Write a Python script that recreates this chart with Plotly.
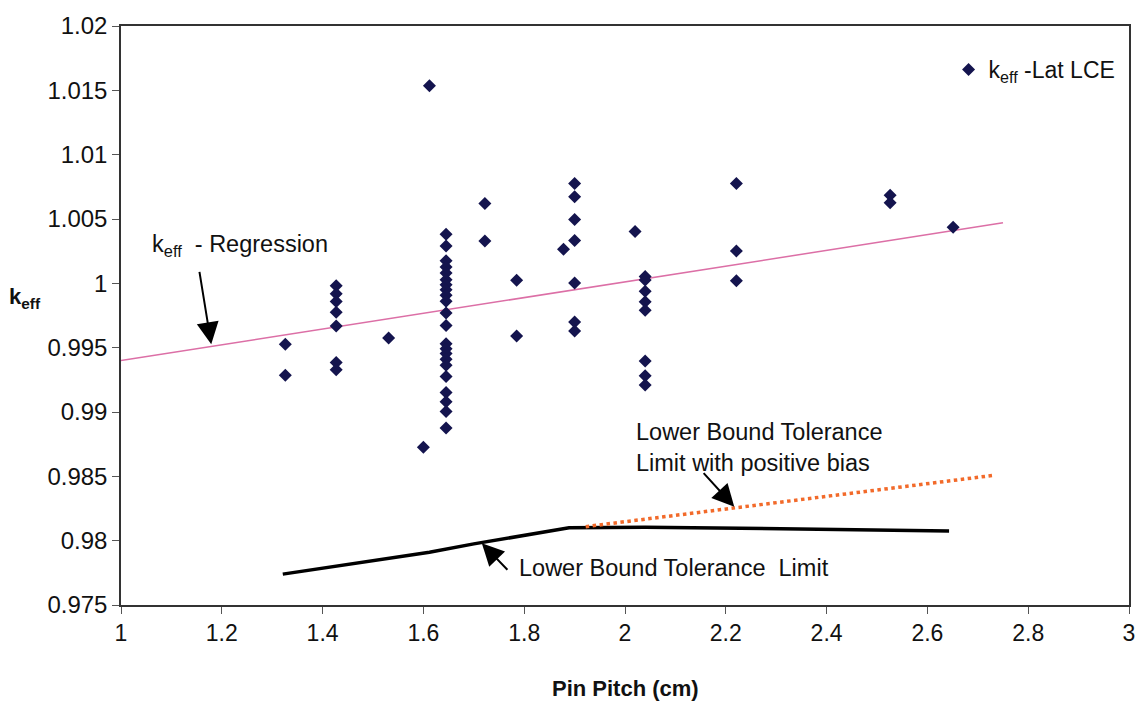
import plotly.graph_objects as go

# ---------------- data ----------------
pitch = [1.326, 1.326,
         1.427, 1.427, 1.427, 1.427, 1.427, 1.427, 1.427,
         1.531, 1.600, 1.612,
         1.645, 1.645, 1.645, 1.645, 1.645, 1.645, 1.645, 1.645, 1.645, 1.645, 1.645,
         1.645, 1.645, 1.645, 1.645, 1.645, 1.645, 1.645, 1.645, 1.645, 1.645, 1.645,
         1.722, 1.722, 1.785, 1.785, 1.878,
         1.900, 1.900, 1.900, 1.900, 1.900, 1.900, 1.900,
         2.020,
         2.040, 2.040, 2.040, 2.040, 2.040, 2.040, 2.040, 2.040,
         2.221, 2.221, 2.221,
         2.526, 2.526, 2.651]
keff = [0.99526, 0.99286,
        0.99981, 0.99920, 0.99858, 0.99776, 0.99668, 0.99384, 0.99328,
        0.99575, 0.98727, 1.01535,
        1.00381, 1.00291, 1.00175, 1.00126, 1.00080, 1.00028, 0.99989, 0.99950, 0.99907, 0.99861, 0.99770,
        0.99672, 0.99531, 0.99492, 0.99454, 0.99410, 0.99363, 0.99276, 0.99152, 0.99080, 0.99003, 0.98876,
        1.00621, 1.00329, 1.00023, 0.99590, 1.00265,
        1.00775, 1.00672, 1.00497, 1.00332, 1.00002, 0.99699, 0.99629,
        1.00402,
        1.00054, 1.00026, 0.99938, 0.99856, 0.99791, 0.99397, 0.99281, 0.99209,
        1.00775, 1.00252, 1.00020,
        1.00685, 1.00626, 1.00435]

reg_x = [1.0, 2.75]
reg_y = [0.9940, 1.0047]

lbtl_x = [1.321, 1.612, 1.700, 1.889, 2.040, 2.643]
lbtl_y = [0.9774, 0.9791, 0.97975, 0.9810, 0.98105, 0.98076]

bias_x = [1.922, 2.734]
bias_y = [0.98109, 0.98509]

x_ticks = [1, 1.2, 1.4, 1.6, 1.8, 2, 2.2, 2.4, 2.6, 2.8, 3]
x_tick_text = ["1", "1.2", "1.4", "1.6", "1.8", "2", "2.2", "2.4", "2.6", "2.8", "3"]
y_ticks = [0.975, 0.98, 0.985, 0.99, 0.995, 1.0, 1.005, 1.01, 1.015, 1.02]
y_tick_text = ["0.975", "0.98", "0.985", "0.99", "0.995", "1", "1.005", "1.01", "1.015", "1.02"]

# ---------------- figure ----------------
ARIAL = "Liberation Sans, Arial, sans-serif"
NARROW = "Liberation Sans Narrow, Arial Narrow, Liberation Sans, sans-serif"

fig = go.Figure()

fig.add_trace(go.Scatter(
    x=reg_x, y=reg_y, mode="lines",
    line=dict(color="#dc6fa6", width=1.5), showlegend=False, hoverinfo="skip"))

fig.add_trace(go.Scatter(
    x=lbtl_x, y=lbtl_y, mode="lines",
    line=dict(color="#000000", width=3.5), showlegend=False, hoverinfo="skip"))

fig.add_trace(go.Scatter(
    x=bias_x, y=bias_y, mode="lines",
    line=dict(color="#f26a2a", width=3.5, dash="dot"), showlegend=False, hoverinfo="skip"))

fig.add_trace(go.Scatter(
    x=pitch, y=keff, mode="markers",
    marker=dict(symbol="diamond", size=10, color="#14144e"),
    name="k<sub>eff</sub> -Lat LCE", showlegend=True))

annot_font = dict(family=ARIAL, size=23.5, color="#111111")

fig.update_layout(
    width=1147, height=702,
    margin=dict(l=121, r=14, t=22, b=97),
    paper_bgcolor="white", plot_bgcolor="white",
    showlegend=True,
    legend=dict(x=0.821, y=0.925, xanchor="left", yanchor="middle",
                font=dict(family=ARIAL, size=23, color="#111111"),
                bgcolor="rgba(0,0,0,0)", itemwidth=30),
    xaxis=dict(range=[1, 3], tickvals=x_ticks, ticktext=x_tick_text,
               ticks="outside", ticklen=7, tickcolor="#555555",
               tickfont=dict(family=NARROW, size=23, color="#111111"),
               showline=True, linecolor="#333333", linewidth=1.5, mirror=True,
               showgrid=False, zeroline=False),
    yaxis=dict(range=[0.975, 1.02], tickvals=y_ticks, ticktext=y_tick_text,
               ticks="outside", ticklen=7, tickcolor="#555555",
               tickfont=dict(family=ARIAL, size=24, color="#111111"),
               showline=True, linecolor="#333333", linewidth=1.5, mirror=True,
               showgrid=False, zeroline=False),
    annotations=[
        dict(xref="paper", yref="paper", x=0.5, y=-0.145, xanchor="center", yanchor="middle",
             text="<b>Pin Pitch (cm)</b>", showarrow=False,
             font=dict(family=NARROW, size=22, color="#111111")),
        dict(xref="paper", yref="paper", x=-0.095, y=0.53, xanchor="center", yanchor="middle",
             text="<b>k<sub>eff</sub></b>", showarrow=False,
             font=dict(family=ARIAL, size=22, color="#111111")),
        # regression label and arrow
        dict(x=1.057, y=1.00296, xanchor="left", yanchor="middle",
             text="k<sub>eff</sub>  - Regression", showarrow=False, font=annot_font),
        dict(x=1.179, y=0.99526, ax=-12, ay=-74, text="", showarrow=True,
             arrowhead=2, arrowsize=2.2, arrowwidth=2, arrowcolor="#000000"),
        # lower bound label and arrow
        dict(x=1.785, y=0.97787, xanchor="left", yanchor="middle",
             text="Lower Bound Tolerance  Limit", showarrow=False, font=annot_font),
        dict(x=1.716, y=0.9798, ax=27, ay=28, text="", showarrow=True,
             arrowhead=2, arrowsize=2.2, arrowwidth=2, arrowcolor="#000000"),
        # positive bias label and arrow
        dict(x=2.017, y=0.98727, xanchor="left", yanchor="middle", align="left",
             text="Lower Bound Tolerance<br>Limit with positive bias", showarrow=False,
             font=annot_font),
        dict(x=2.2168, y=0.98264, ax=-32, ay=-35, text="", showarrow=True,
             arrowhead=2, arrowsize=2.2, arrowwidth=2, arrowcolor="#000000"),
    ],
)

fig.write_html("out.html")
